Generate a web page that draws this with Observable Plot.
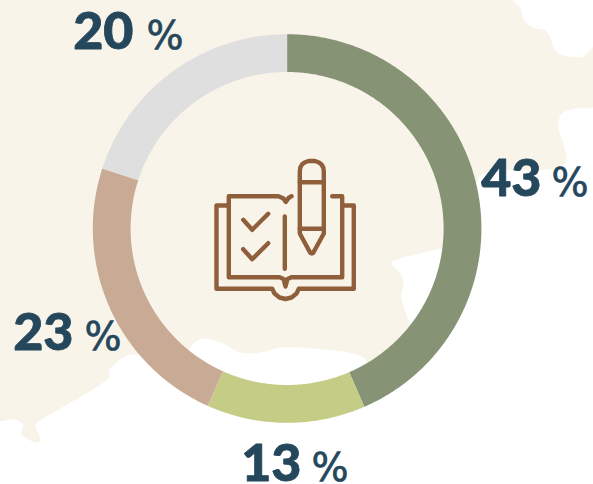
<!DOCTYPE html>
<html>
<head>
<meta charset="utf-8">
<style>html,body{margin:0;padding:0;background:#fff}svg{display:block}</style>
<script src="https://cdn.jsdelivr.net/npm/d3@7"></script>
<script src="https://cdn.jsdelivr.net/npm/@observablehq/plot@0.6"></script>
</head>
<body>
<script>
const sliceNames = ["a", "b", "c", "d"];
const sliceValues = [43.5, 13.2, 23.3, 20];
const sliceColors = ["#869374", "#c5cc85", "#c9ab95", "#dfdfdf"];
const numberLabels = ["43", "13", "23", "20"];
const percentLabel = "%";

// Layout (page units used as the domain of the x and y scales)
const numberEndX = [541, 301, 73, 133];
const percentStartX = [551, 311, 84, 146];
const labelBaseY = [197, 482, 351, 50];
const centre = [286.6, 228];
const radii = [156.5, 194.3];

// Background land outline
const land = [[-20,-20],[513,-20],[513,0],[520,8],[524,20],[533,27],[545,30],[550,37],[553,47],[558,53],[575,57],[583,56],[593,46],[613,30],[613,107],[593,107],[567,110],[560,115],[558,127],[565,150],[566,160],[558,167],[500,170],[486,172],[478,178],[470,210],[455,243],[440,248],[392,261],[391,264],[400,273],[403,282],[401,297],[410,323],[414,327],[392,350],[372,368],[367,362],[363,357],[353,353],[300,347],[280,347],[260,352],[240,352],[220,342],[203,338],[193,343],[188,350],[160,370],[140,355],[127,355],[115,363],[108,370],[109,376],[37,422],[35,425],[40,440],[35,442],[22,435],[20,432],[23,425],[15,419],[0,421],[-20,421]];

// Icon strokes
const iconStrokes = [
  [[299.3,233],[299.3,171],[299.8,167],[301.5,164],[304,162],[308,160.5],[314.5,160.5],[318.5,162],[321,164],[322.8,167],[323.3,171],[323.3,233],[314,250],[312.5,252.5],[311.3,253],[310,252.5],[308.5,250],[299.3,233]],
  [[299.3,181.7],[323.3,181.7]],
  [[299.3,228.3],[323.3,228.3]],
  [[291,195.7],[288,197.5],[285.3,201.5],[283,198],[278,195.7],[228.3,195.7],[228.3,276.7],[279,276.7],[283,278.5],[285,286],[287,278.5],[291,276.7],[341.7,276.7],[341.7,195.7],[331.7,195.7]],
  [[226.7,205],[216,205],[216,288.3],[271.7,288.3],[274,293],[279,297],[285,298.5],[291,297],[296,293],[298.3,288.3],[353.3,288.3],[353.3,205],[343,205]],
  [[284.3,216],[284.3,268.3]],
  [[242.7,219.3],[251.7,229.3],[267.7,213.3]],
  [[242.7,248.7],[251.7,258.7],[267.7,242.7]]
];

const arcs = d3.pie().sort(null).value(d => d)(sliceValues);
const ringPoints = arcs.flatMap((a, i) => {
  const step = Math.PI / 360;
  const n = Math.ceil((a.endAngle - a.startAngle) / step);
  const angles = d3.range(n + 1).map(k => a.startAngle + (a.endAngle - a.startAngle) * k / n);
  const at = (r, t) => ({name: sliceNames[i], x: centre[0] + r * Math.sin(t), y: centre[1] - r * Math.cos(t)});
  return [...angles.map(t => at(radii[1], t)), ...angles.reverse().map(t => at(radii[0], t))];
});
const iconPoints = iconStrokes.flatMap((s, i) => s.map(([x, y]) => ({i, x, y})));
const landPoints = land.map(([x, y]) => ({x, y}));
const labelRows = numberLabels.map((t, i) => ({t, nx: numberEndX[i], px: percentStartX[i], y: labelBaseY[i]}));

const chart = Plot.plot({
  width: 593, height: 484,
  margin: 0,
  x: {domain: [0, 593], range: [0, 593], axis: null},
  y: {domain: [0, 484], range: [0, 484], axis: null},
  color: {domain: sliceNames, range: sliceColors},
  style: {background: "#fff", overflow: "hidden"},
  marks: [
    Plot.line(landPoints, {x: "x", y: "y", fill: "#f9f4e9", stroke: "none", curve: "catmull-rom", clip: "frame"}),
    Plot.line(ringPoints, {x: "x", y: "y", z: "name", fill: "name", stroke: "none"}),
    Plot.line(iconPoints, {x: "x", y: "y", z: "i", stroke: "#8f5f3c", strokeWidth: 4.4, strokeLinecap: "round", strokeLinejoin: "round", fill: "none"}),
    Plot.text(labelRows, {x: "nx", y: "y", text: "t", textAnchor: "end", lineAnchor: "bottom", fontFamily: "Lato", fontWeight: 900, fontSize: 52, fill: "#25475c", stroke: "#25475c", strokeWidth: 0.8, dy: -2}),
    Plot.text(labelRows, {x: "px", y: "y", text: () => percentLabel, textAnchor: "start", lineAnchor: "bottom", fontFamily: "DejaVu Sans", fontWeight: 400, fontSize: 39, fill: "#25475c", stroke: "#25475c", strokeWidth: 0.7, dy: -2})
  ]
});
document.body.appendChild(chart);
</script>
</body>
</html>
